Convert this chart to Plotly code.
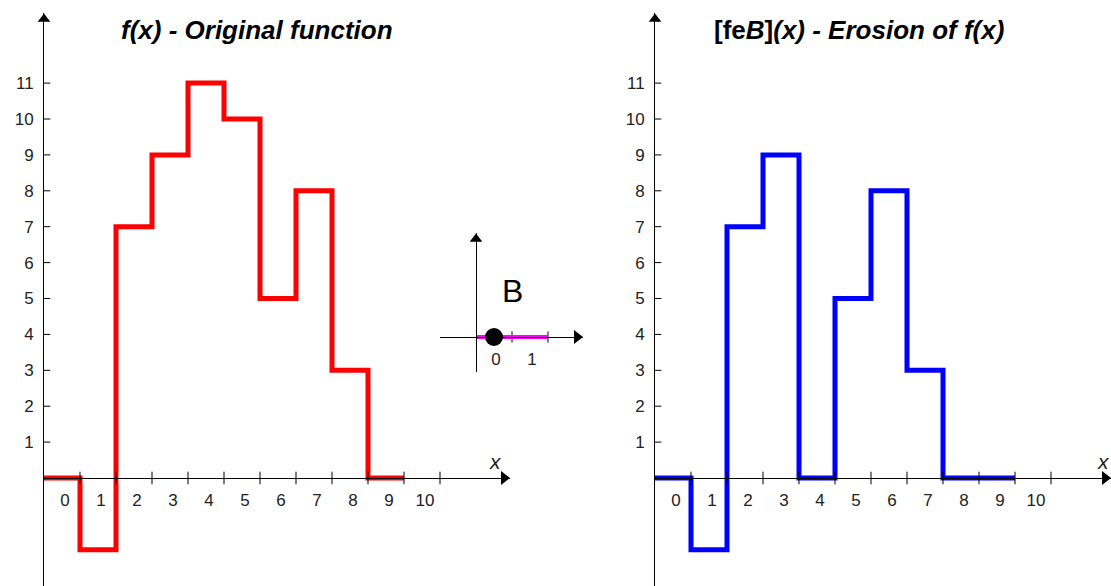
import plotly.graph_objects as go

# ---------------- data ----------------
X_VALUES = list(range(10))
F_ORIGINAL = [0, -2, 7, 9, 11, 10, 5, 8, 3, 0]
F_EROSION = [0, -2, 7, 9, 0, 5, 8, 3, 0, 0]
X_TICK_VALUES = list(range(11))
X_TICK_LABELS = [str(v) for v in X_TICK_VALUES]
X_BOUNDARIES = [v + 0.5 for v in X_TICK_VALUES]
Y_TICK_VALUES = list(range(1, 12))
Y_TICK_LABELS = [str(v) for v in Y_TICK_VALUES]
B_SUPPORT = [0, 1]
B_ORIGIN = 0
B_TICK_VALUES = [0, 1]
B_TICK_LABELS = ["0", "1"]

TITLE_LEFT = "<b><i>f(x) - Original function</i></b>"
TITLE_RIGHT = "<b>[fe<i>B</i>]<i>(x) - Erosion of f(x)</i></b>"

# ---------------- geometry (pixels) ----------------
W, H = 1111, 586
AXIS_Y_PX = 478
UNIT_X, UNIT_Y = 36.0, 35.9
TOP_PX = 13
LEFT_X0, LEFT_XEND = 44, 510
RIGHT_X0, RIGHT_XEND = 655, 1111

FONT = "Liberation Sans, Arial, sans-serif"
TICK_FONT = dict(family=FONT, size=17, color="#222222")


def steps(xs, ys):
    ex = [x - 0.5 for x in xs] + [xs[-1] + 0.5]
    ey = list(ys) + [ys[-1]]
    return ex, ey


yr = [(AXIS_Y_PX - H) / UNIT_Y, (AXIS_Y_PX - TOP_PX) / UNIT_Y]
ydom = [0, 1 - TOP_PX / H]
xpos = 1 - AXIS_Y_PX / H

fig = go.Figure()

panels = [
    ("x", "y", F_ORIGINAL, "#ff0000", LEFT_X0, LEFT_XEND),
    ("x2", "y2", F_EROSION, "#0000ff", RIGHT_X0, RIGHT_XEND),
]

layout_axes = {}
for i, (xa, ya, series, color, x0, xend) in enumerate(panels):
    xr = [-0.5, -0.5 + (xend - x0) / UNIT_X]
    sx, sy = steps(X_VALUES, series)
    fig.add_trace(go.Scatter(x=sx, y=sy, mode="lines", line_shape="hv",
                             line=dict(color=color, width=5),
                             xaxis=xa, yaxis=ya, hoverinfo="skip", showlegend=False))
    # crossing tick marks
    fig.add_trace(go.Scatter(x=X_BOUNDARIES, y=[0] * len(X_BOUNDARIES), mode="markers",
                             marker=dict(symbol="line-ns", size=9,
                                         line=dict(color="black", width=1)),
                             xaxis=xa, yaxis=ya, hoverinfo="skip", showlegend=False))
    fig.add_trace(go.Scatter(x=[-0.5] * len(Y_TICK_VALUES), y=Y_TICK_VALUES, mode="markers",
                             marker=dict(symbol="line-ew", size=9,
                                         line=dict(color="black", width=1)),
                             xaxis=xa, yaxis=ya, hoverinfo="skip", showlegend=False))
    # arrow heads
    fig.add_trace(go.Scatter(x=[xr[1] - 6 / UNIT_X], y=[0], mode="markers",
                             marker=dict(symbol="triangle-right", size=12, color="black"),
                             xaxis=xa, yaxis=ya, cliponaxis=False,
                             hoverinfo="skip", showlegend=False))
    fig.add_trace(go.Scatter(x=[-0.5], y=[yr[1] - 6 / UNIT_Y], mode="markers",
                             marker=dict(symbol="triangle-up", size=11, color="black"),
                             xaxis=xa, yaxis=ya, cliponaxis=False,
                             hoverinfo="skip", showlegend=False))
    sfx = "" if i == 0 else "2"
    layout_axes["xaxis" + sfx] = dict(
        domain=[x0 / W, xend / W], range=xr, anchor="free", position=xpos,
        showgrid=False, zeroline=False, showline=True, linecolor="black", linewidth=1,
        tickmode="array", tickvals=X_TICK_VALUES, ticktext=X_TICK_LABELS,
        ticks="outside", ticklen=7, tickcolor="rgba(0,0,0,0)", tickfont=TICK_FONT,
        ticklabelshift=3, fixedrange=True)
    layout_axes["yaxis" + sfx] = dict(
        domain=ydom, range=yr, anchor=xa,
        showgrid=False, zeroline=False, showline=True, linecolor="black", linewidth=1,
        tickmode="array", tickvals=Y_TICK_VALUES, ticktext=Y_TICK_LABELS,
        ticks="outside", ticklen=6, tickcolor="rgba(0,0,0,0)", tickfont=TICK_FONT,
        fixedrange=True)

# ---------------- inset: structuring element B ----------------
IN_X0, IN_XEND = 440, 583
IN_YAX_PX = 476
IN_AXIS_Y_PX = 337
IN_TOP, IN_BOT = 233, 372
in_xr = [-1.5, -1.5 + (IN_XEND - IN_X0) / UNIT_X]
in_yr = [(IN_AXIS_Y_PX - IN_BOT) / UNIT_X, (IN_AXIS_Y_PX - IN_TOP) / UNIT_X]

bx, by = steps(B_SUPPORT, [0] * len(B_SUPPORT))
fig.add_trace(go.Scatter(x=[v + 0.5 for v in B_SUPPORT], y=[0] * len(B_SUPPORT),
                         mode="markers",
                         marker=dict(symbol="line-ns", size=8, line=dict(color="black", width=1)),
                         xaxis="x3", yaxis="y3", hoverinfo="skip", showlegend=False))
fig.add_trace(go.Scatter(x=bx, y=by, mode="lines", line_shape="hv",
                         line=dict(color="#ff00ff", width=4),
                         xaxis="x3", yaxis="y3", hoverinfo="skip", showlegend=False))
fig.add_trace(go.Scatter(x=[B_ORIGIN], y=[0], mode="markers",
                         marker=dict(size=18, color="black"),
                         xaxis="x3", yaxis="y3", cliponaxis=False,
                         hoverinfo="skip", showlegend=False))
fig.add_trace(go.Scatter(x=[in_xr[1] - 6 / UNIT_X], y=[0], mode="markers",
                         marker=dict(symbol="triangle-right", size=12, color="black"),
                         xaxis="x3", yaxis="y3", cliponaxis=False,
                         hoverinfo="skip", showlegend=False))
fig.add_trace(go.Scatter(x=[-0.5], y=[in_yr[1] - 6 / UNIT_X], mode="markers",
                         marker=dict(symbol="triangle-up", size=11, color="black"),
                         xaxis="x3", yaxis="y3", cliponaxis=False,
                         hoverinfo="skip", showlegend=False))

layout_axes["xaxis3"] = dict(
    domain=[IN_X0 / W, IN_XEND / W], range=in_xr, anchor="free",
    position=1 - IN_AXIS_Y_PX / H,
    showgrid=False, zeroline=False, showline=True, linecolor="black", linewidth=1,
    tickmode="array", tickvals=B_TICK_VALUES, ticktext=B_TICK_LABELS,
    ticks="outside", ticklen=7, tickcolor="rgba(0,0,0,0)", tickfont=TICK_FONT,
    ticklabelshift=2, fixedrange=True)
layout_axes["yaxis3"] = dict(
    domain=[1 - IN_BOT / H, 1 - IN_TOP / H], range=in_yr, anchor="free",
    position=IN_YAX_PX / W,
    showgrid=False, zeroline=False, showline=True, linecolor="black", linewidth=1,
    showticklabels=False, ticks="", fixedrange=True)

annotations = [
    dict(text=TITLE_LEFT, x=257 / W, y=1 - 30 / H, xref="paper", yref="paper",
         showarrow=False, xanchor="center", yanchor="middle",
         font=dict(family=FONT, size=26, color="black")),
    dict(text=TITLE_RIGHT, x=859 / W, y=1 - 30 / H, xref="paper", yref="paper",
         showarrow=False, xanchor="center", yanchor="middle",
         font=dict(family=FONT, size=26, color="black")),
    dict(text="<i>x</i>", x=12.03, y=0.45, xref="x", yref="y", showarrow=False,
         xanchor="center", yanchor="middle", font=dict(family=FONT, size=21, color="#222222")),
    dict(text="<i>x</i>", x=11.95, y=0.45, xref="x2", yref="y2", showarrow=False,
         xanchor="center", yanchor="middle", font=dict(family=FONT, size=21, color="#222222")),
    dict(text="B", x=0.5, y=1.28, xref="x3", yref="y3", showarrow=False,
         xanchor="center", yanchor="middle", font=dict(family=FONT, size=32, color="black")),
]

fig.update_layout(
    width=W, height=H, margin=dict(l=0, r=0, t=0, b=0),
    paper_bgcolor="white", plot_bgcolor="white",
    showlegend=False, hovermode=False,
    annotations=annotations,
    **layout_axes,
)

fig.write_html("out.html", config={"displayModeBar": False},
               post_script="document.body.style.margin='0';document.body.style.overflow='hidden';")
